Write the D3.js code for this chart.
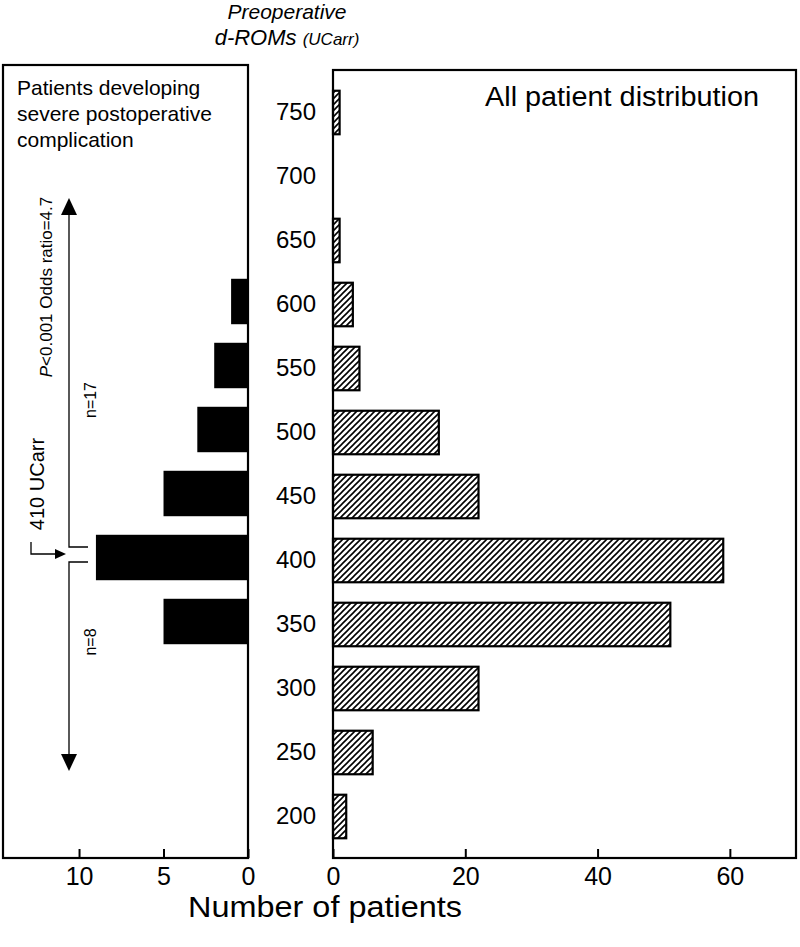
<!DOCTYPE html>
<html>
<head>
<meta charset="utf-8">
<script src="https://cdn.jsdelivr.net/npm/d3@7"></script>
<style>
  html, body { margin: 0; padding: 0; background: #fff; }
  svg { display: block; }
  text { font-family: "Liberation Sans", Arial, Helvetica, sans-serif; fill: #000; }
</style>
</head>
<body>
<svg id="chart" width="800" height="947"></svg>
<script>
// ---- data ----
const categories = [750, 700, 650, 600, 550, 500, 450, 400, 350, 300, 250, 200];
const allPatients = [1, 0, 1, 3, 4, 16, 22, 59, 51, 22, 6, 2];
const severePatients = [0, 0, 0, 1, 2, 3, 5, 9, 5, 0, 0, 0];
const leftTicks = [0, 5, 10];
const rightTicks = [0, 20, 40, 60];

const svg = d3.select("#chart");

// hatch pattern
const defs = svg.append("defs");
const pat = defs.append("pattern")
  .attr("id", "hatch").attr("patternUnits", "userSpaceOnUse")
  .attr("width", 6).attr("height", 6);
pat.append("rect").attr("width", 6).attr("height", 6).attr("fill", "#fff");
pat.append("path").attr("d", "M-1,1 l2,-2 M0,6 l6,-6 M5,7 l2,-2")
  .attr("stroke", "#000").attr("stroke-width", 1.6);

// geometry
const L = {x0: 3, x1: 248, top: 65, bottom: 858};
const R = {x0: 333, x1: 796, top: 70, bottom: 858};

const yR = d3.scaleBand().domain(categories).range([80.5, 848.5])
  .paddingInner(0.32).paddingOuter(0.16);
const yL = d3.scaleBand().domain(categories).range([77.5, 845.5])
  .paddingInner(0.29).paddingOuter(0.145);

const xR = d3.scaleLinear().domain([0, 70]).range([R.x0, R.x1]);
const xL = d3.scaleLinear().domain([0, 14.5]).range([L.x1, L.x0]);

// ---- left panel ----
const gL = svg.append("g");
gL.selectAll("rect.bar").data(categories.map((c, i) => ({c, v: severePatients[i]})).filter(d => d.v > 0))
  .join("rect").attr("class", "bar")
  .attr("x", d => xL(d.v)).attr("y", d => yL(d.c))
  .attr("width", d => xL(0) - xL(d.v)).attr("height", yL.bandwidth())
  .attr("fill", "#000");

gL.append("rect").attr("x", L.x0).attr("y", L.top)
  .attr("width", L.x1 - L.x0).attr("height", L.bottom - L.top)
  .attr("fill", "none").attr("stroke", "#000").attr("stroke-width", 2.2);

const axL = gL.append("g").attr("transform", `translate(0,${L.bottom})`)
  .call(d3.axisBottom(xL).tickValues(leftTicks).tickSize(-9).tickPadding(9).tickFormat(d3.format("d")));
axL.select(".domain").remove();
axL.selectAll(".tick line").attr("stroke-width", 2);
axL.selectAll(".tick text").attr("font-size", 25)
  .style("font-family", "'Liberation Sans Narrow', 'Liberation Sans', Arial, sans-serif");

// panel title
["Patients developing", "severe postoperative", "complication"].forEach((s, i) => {
  gL.append("text").attr("x", 17).attr("y", 95 + i * 26).attr("font-size", 21).text(s);
});

// annotation: arrows
const ann = gL.append("g").attr("stroke", "#000").attr("stroke-width", 1.3).attr("fill", "none");
const shaftX = 69;
ann.append("path").attr("d", `M${shaftX},214 V547 H88`);
ann.append("path").attr("d", `M${shaftX},762 V562 H88`);
gL.append("path").attr("d", `M${shaftX},198 l-8,17 h16 z`).attr("fill", "#000");
gL.append("path").attr("d", `M${shaftX},771 l-8,-17 h16 z`).attr("fill", "#000");
ann.append("path").attr("d", `M31,542 V554 H56`);
gL.append("path").attr("d", `M66,554 l-11,-5 v10 z`).attr("fill", "#000");

function vtext(x, y, size, parts) {
  const t = gL.append("text").attr("transform", `translate(${x},${y}) rotate(-90)`)
    .attr("text-anchor", "middle").attr("font-size", size);
  parts.forEach(p => t.append("tspan").attr("font-style", p.italic ? "italic" : null).text(p.s));
  return t;
}
vtext(52, 287, 17, [{s: "P", italic: true}, {s: "<0.001 Odds ratio=4.7"}]);
vtext(96, 400, 16, [{s: "n=17"}]);
vtext(44, 484, 20, [{s: "410 UCarr"}]);
vtext(96, 642, 16, [{s: "n=8"}]);

// ---- right panel ----
const gR = svg.append("g");
gR.selectAll("rect.bar").data(categories.map((c, i) => ({c, v: allPatients[i]})).filter(d => d.v > 0))
  .join("rect").attr("class", "bar")
  .attr("x", xR(0)).attr("y", d => yR(d.c))
  .attr("width", d => xR(d.v) - xR(0)).attr("height", yR.bandwidth())
  .attr("fill", "url(#hatch)").attr("stroke", "#000").attr("stroke-width", 2.2);

gR.append("rect").attr("x", R.x0).attr("y", R.top)
  .attr("width", R.x1 - R.x0).attr("height", R.bottom - R.top)
  .attr("fill", "none").attr("stroke", "#000").attr("stroke-width", 2.2);

const axR = gR.append("g").attr("transform", `translate(0,${R.bottom})`)
  .call(d3.axisBottom(xR).tickValues(rightTicks).tickSize(-9).tickPadding(9).tickFormat(d3.format("d")));
axR.select(".domain").remove();
axR.selectAll(".tick line").attr("stroke-width", 2);
axR.selectAll(".tick text").attr("font-size", 25)
  .style("font-family", "'Liberation Sans Narrow', 'Liberation Sans', Arial, sans-serif");

gR.append("text").attr("x", 485).attr("y", 106).attr("font-size", 27)
  .attr("textLength", 274).attr("lengthAdjust", "spacingAndGlyphs").text("All patient distribution");

// category labels between panels
const axC = svg.append("g").attr("transform", `translate(316,0)`)
  .call(d3.axisLeft(yR).tickSize(0).tickPadding(0));
axC.select(".domain").remove();
axC.selectAll(".tick text").attr("font-size", 24).attr("text-anchor", "end");

// header
svg.append("text").attr("x", 287).attr("y", 19).attr("text-anchor", "middle")
  .attr("font-size", 21).attr("font-style", "italic").text("Preoperative");
const h2 = svg.append("text").attr("x", 287).attr("y", 45).attr("text-anchor", "middle")
  .attr("font-style", "italic");
h2.append("tspan").attr("font-size", 22).text("d-ROMs ");
h2.append("tspan").attr("font-size", 17).text("(UCarr)");

// x axis title
svg.append("text").attr("x", 188).attr("y", 917).attr("font-size", 29)
  .attr("textLength", 274).attr("lengthAdjust", "spacingAndGlyphs").text("Number of patients");
</script>
</body>
</html>
